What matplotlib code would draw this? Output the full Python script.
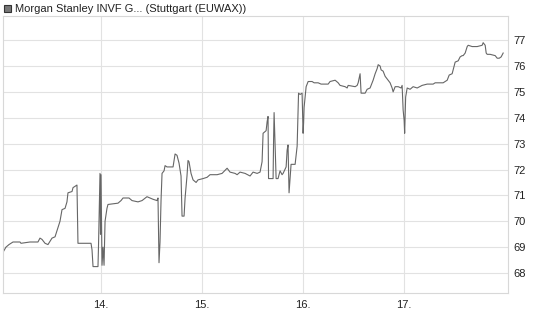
import matplotlib
matplotlib.use('Agg')
import matplotlib.pyplot as plt
from matplotlib.patches import Rectangle

plt.rcParams['font.family'] = ['Liberation Sans', 'DejaVu Sans']

title = 'Morgan Stanley INVF G... (Stuttgart (EUWAX))'

# fractional day of month
days = [13.030, 13.059, 13.089, 13.129, 13.198, 13.208, 13.297, 13.376, 13.396, 13.416,
        13.446, 13.475, 13.515, 13.545, 13.574, 13.594, 13.614, 13.644, 13.663, 13.673,
        13.713, 13.723, 13.762, 13.772, 13.901, 13.911, 13.921, 13.970, 13.975, 13.990,
        13.995, 14.000, 14.010, 14.020, 14.030, 14.040, 14.059, 14.069, 14.168, 14.198,
        14.218, 14.277, 14.307, 14.366, 14.406, 14.455, 14.485, 14.515, 14.554, 14.564,
        14.574, 14.584, 14.594, 14.604, 14.624, 14.634, 14.653, 14.713, 14.733, 14.752,
        14.772, 14.792, 14.802, 14.822, 14.832, 14.851, 14.861, 14.871, 14.891, 14.911,
        14.941, 14.960, 15.010, 15.050, 15.079, 15.149, 15.198, 15.248, 15.277, 15.327,
        15.347, 15.376, 15.426, 15.475, 15.505, 15.545, 15.574, 15.594, 15.604, 15.634,
        15.644, 15.653, 15.658, 15.703, 15.708, 15.713, 15.733, 15.752, 15.772, 15.792,
        15.802, 15.832, 15.842, 15.851, 15.861, 15.881, 15.921, 15.941, 15.950, 15.955,
        15.970, 15.990, 16.000, 16.005, 16.010, 16.030, 16.050, 16.089, 16.109, 16.149,
        16.178, 16.248, 16.267, 16.317, 16.347, 16.366, 16.416, 16.436, 16.446, 16.515,
        16.535, 16.545, 16.564, 16.574, 16.614, 16.634, 16.663, 16.683, 16.693, 16.713,
        16.733, 16.743, 16.762, 16.772, 16.792, 16.812, 16.832, 16.861, 16.881, 16.891,
        16.911, 16.941, 16.970, 16.980, 16.990, 17.000, 17.005, 17.015, 17.030, 17.059,
        17.089, 17.129, 17.178, 17.228, 17.287, 17.307, 17.386, 17.426, 17.446, 17.475,
        17.485, 17.505, 17.535, 17.554, 17.574, 17.584, 17.604, 17.624, 17.634, 17.673,
        17.723, 17.772, 17.782, 17.802, 17.812, 17.822, 17.851, 17.901, 17.921, 17.941,
        17.960, 17.980]

prices = [68.8, 69.0, 69.1, 69.2, 69.2, 69.15, 69.2, 69.2, 69.35, 69.3,
          69.15, 69.1, 69.35, 69.4, 69.75, 70.0, 70.45, 70.5, 70.75, 71.1,
          71.15, 71.3, 71.4, 69.15, 69.15, 68.9, 68.25, 68.25, 69.0, 71.85,
          69.5, 71.8, 68.3, 69.0, 68.3, 70.0, 70.5, 70.65, 70.7, 70.8,
          70.9, 70.9, 70.8, 70.75, 70.8, 70.95, 70.9, 70.85, 70.8, 70.9,
          68.4, 69.2, 70.8, 71.85, 71.95, 72.15, 72.1, 72.1, 72.6, 72.55,
          72.25, 71.75, 70.2, 70.2, 70.9, 71.75, 72.35, 72.3, 71.85, 71.6,
          71.5, 71.6, 71.65, 71.7, 71.8, 71.8, 71.85, 72.05, 71.9, 71.85,
          71.8, 71.9, 71.85, 71.75, 71.9, 71.85, 71.9, 72.3, 73.4, 73.5,
          73.85, 74.05, 71.65, 71.65, 73.15, 74.2, 71.65, 71.65, 71.95, 71.8,
          71.85, 72.1, 72.75, 72.95, 71.1, 72.2, 72.2, 72.9, 74.3, 74.95,
          74.9, 74.95, 73.4, 73.8, 74.4, 75.2, 75.4, 75.4, 75.35, 75.35,
          75.3, 75.3, 75.4, 75.45, 75.35, 75.25, 75.2, 75.15, 75.25, 75.2,
          75.25, 75.35, 75.7, 74.95, 74.95, 75.1, 75.15, 75.35, 75.45, 75.7,
          75.9, 76.05, 76.0, 75.85, 75.8, 75.6, 75.5, 75.35, 75.15, 75.0,
          75.2, 75.2, 75.15, 75.25, 74.3, 73.9, 73.4, 74.8, 75.15, 75.1,
          75.2, 75.15, 75.25, 75.3, 75.3, 75.35, 75.35, 75.45, 75.65, 75.7,
          75.85, 76.15, 76.2, 76.35, 76.4, 76.4, 76.5, 76.75, 76.8, 76.75,
          76.75, 76.8, 76.9, 76.8, 76.5, 76.45, 76.45, 76.4, 76.3, 76.3,
          76.35, 76.5]

xticks = [14, 15, 16, 17]
xticklabels = ['14.', '15.', '16.', '17.']
yticks = [68, 69, 70, 71, 72, 73, 74, 75, 76, 77]

fig = plt.figure(figsize=(5.45, 3.27), dpi=100)
ax = fig.add_axes([0.0055, 0.104, 0.927, 0.847])

ax.plot(days, prices, color='#666666', linewidth=0.8)

ax.set_xlim(13.03, 18.03)
ax.set_ylim(67.23, 77.93)
ax.set_xticks(xticks)
ax.set_xticklabels(xticklabels)
ax.set_yticks(yticks)
ax.yaxis.tick_right()
ax.tick_params(length=0, labelsize=8, colors='#222222', pad=4)
ax.tick_params(axis='x', pad=5)
ax.grid(True, color='#e2e2e2', linewidth=0.8)
ax.set_axisbelow(True)
for s in ax.spines.values():
    s.set_color('#d8d8d8')

# legend marker + title
fig.patches.append(Rectangle((4 / 545, 1 - 12 / 327), 7 / 545, 7 / 327,
                             transform=fig.transFigure, facecolor='#777777',
                             edgecolor='#333333', linewidth=0.8))
fig.text(15 / 545, 1 - 8.5 / 327, title, fontsize=8, va='center', ha='left',
         color='#222222')

fig.savefig('out.png', dpi=100)
